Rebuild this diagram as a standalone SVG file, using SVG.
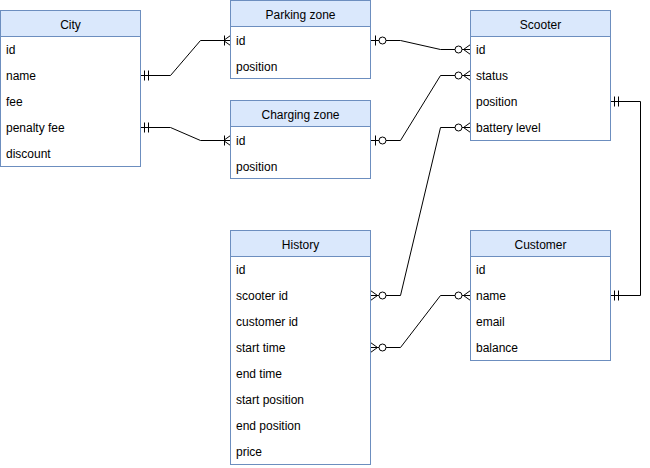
<svg xmlns="http://www.w3.org/2000/svg" width="650" height="468" viewBox="0 0 650 468">
<style>
.box{fill:#ffffff;stroke:#6c8ebf;stroke-width:1}
.hdr{fill:#dae8fc;stroke:#6c8ebf;stroke-width:1}
text{font-family:"Liberation Sans",Arial,Helvetica,sans-serif;font-size:12px;fill:#000000}
.t{text-anchor:middle}
.edge{fill:none;stroke:#000000;stroke-width:1}
.m{fill:none;stroke:#000000;stroke-width:1}
.c{fill:#ffffff;stroke:#000000;stroke-width:1}
</style>
<defs>
<marker id="mandOne" markerUnits="userSpaceOnUse" markerWidth="20" markerHeight="20" refX="0" refY="0" orient="auto-start-reverse" overflow="visible">
<path class="m" d="M-4,-5V5M-8,-5V5"/>
</marker>
<marker id="oneToMany" markerUnits="userSpaceOnUse" markerWidth="20" markerHeight="20" refX="0" refY="0" orient="auto-start-reverse" overflow="visible">
<path class="m" d="M-7,0L0,-5M-7,0L0,5M-6,-5V5"/>
</marker>
<marker id="zeroToOne" markerUnits="userSpaceOnUse" markerWidth="20" markerHeight="20" refX="0" refY="0" orient="auto-start-reverse" overflow="visible">
<path class="m" d="M-5,-5V5"/>
<circle class="c" cx="-12" cy="0" r="3.5"/>
</marker>
<marker id="zeroToMany" markerUnits="userSpaceOnUse" markerWidth="20" markerHeight="20" refX="0" refY="0" orient="auto-start-reverse" overflow="visible">
<path class="m" d="M-7,0L0,-5M-7,0L0,5"/>
<circle class="c" cx="-12" cy="0" r="3.5"/>
</marker>
</defs>

<g id="connectors">
<path class="edge" d="M140.5,75.5H170.5L200.5,40.5H230.5" marker-start="url(#mandOne)" marker-end="url(#oneToMany)"/>
<path class="edge" d="M140.5,127.5H170.5L200.5,140.5H230.5" marker-start="url(#mandOne)" marker-end="url(#oneToMany)"/>
<path class="edge" d="M370.5,40.5H400.5L440.5,49.5H470.5" marker-start="url(#zeroToOne)" marker-end="url(#zeroToMany)"/>
<path class="edge" d="M370.5,140.5H400.5L440.5,75.5H470.5" marker-start="url(#zeroToOne)" marker-end="url(#zeroToMany)"/>
<path class="edge" d="M370.5,295.5H400.5L440.5,127.5H470.5" marker-start="url(#zeroToMany)" marker-end="url(#zeroToMany)"/>
<path class="edge" d="M370.5,347.5H400.5L440.5,295.5H470.5" marker-start="url(#zeroToMany)" marker-end="url(#zeroToMany)"/>
<path class="edge" d="M610.5,101.5H640.5V295.5H610.5" marker-start="url(#mandOne)" marker-end="url(#mandOne)"/>
</g>

<g id="city">
<rect class="box" x="0.5" y="10.5" width="140" height="156"/>
<rect class="hdr" x="0.5" y="10.5" width="140" height="26"/>
<text class="t" x="70.5" y="29">City</text>
<text x="6" y="54">id</text>
<text x="6" y="80">name</text>
<text x="6" y="106">fee</text>
<text x="6" y="132">penalty fee</text>
<text x="6" y="158">discount</text>
</g>

<g id="parking-zone">
<rect class="box" x="230.5" y="0.5" width="140" height="78"/>
<rect class="hdr" x="230.5" y="0.5" width="140" height="26"/>
<text class="t" x="300.5" y="19">Parking zone</text>
<text x="236" y="45">id</text>
<text x="236" y="71">position</text>
</g>

<g id="charging-zone">
<rect class="box" x="230.5" y="100.5" width="140" height="78"/>
<rect class="hdr" x="230.5" y="100.5" width="140" height="26"/>
<text class="t" x="300.5" y="119">Charging zone</text>
<text x="236" y="145">id</text>
<text x="236" y="171">position</text>
</g>

<g id="scooter">
<rect class="box" x="470.5" y="10.5" width="140" height="130"/>
<rect class="hdr" x="470.5" y="10.5" width="140" height="26"/>
<text class="t" x="540.5" y="29">Scooter</text>
<text x="476" y="54">id</text>
<text x="476" y="80">status</text>
<text x="476" y="106">position</text>
<text x="476" y="132">battery level</text>
</g>

<g id="history">
<rect class="box" x="230.5" y="230.5" width="140" height="234"/>
<rect class="hdr" x="230.5" y="230.5" width="140" height="26"/>
<text class="t" x="300.5" y="249">History</text>
<text x="236" y="274">id</text>
<text x="236" y="300">scooter id</text>
<text x="236" y="326">customer id</text>
<text x="236" y="352">start time</text>
<text x="236" y="378">end time</text>
<text x="236" y="404">start position</text>
<text x="236" y="430">end position</text>
<text x="236" y="456">price</text>
</g>

<g id="customer">
<rect class="box" x="470.5" y="230.5" width="140" height="130"/>
<rect class="hdr" x="470.5" y="230.5" width="140" height="26"/>
<text class="t" x="540.5" y="249">Customer</text>
<text x="476" y="274">id</text>
<text x="476" y="300">name</text>
<text x="476" y="326">email</text>
<text x="476" y="352">balance</text>
</g>
</svg>
